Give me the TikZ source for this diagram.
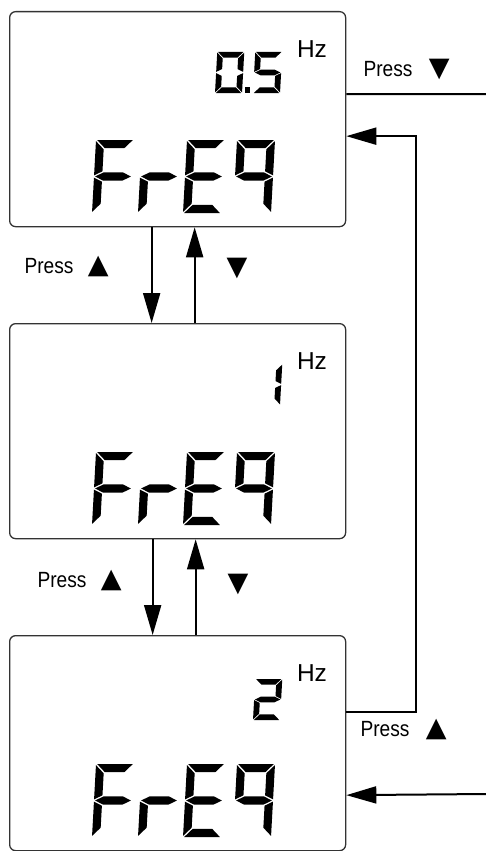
\documentclass[tikz,border=0pt]{standalone}
\usepackage{fontspec}
\setmainfont{Liberation Sans}
\newfontfamily\condfont{Liberation Sans}[FakeStretch=0.87]
\newfontfamily\keyfont{DejaVu Sans}
\usetikzlibrary{arrows.meta,positioning}
\tikzset{
  lcd/.style={draw=black!80, line width=1.3pt, rounded corners=6pt, minimum width=336pt, minimum height=215pt, inner sep=0pt},
  lcdink/.style={fill=black},
  unit/.style={font=\fontsize{24.5}{27}\selectfont, inner sep=0pt},
  presstxt/.style={font=\condfont\fontsize{22}{26}\selectfont, inner sep=0pt},
  keysym/.style={font=\keyfont\fontsize{27}{29}\selectfont, inner sep=0pt},
  arrow/.style={-{Triangle[length=30pt,width=17pt]}, line width=2pt},
  wire/.style={line width=2pt},
}
% seven segment cell: 0..1 wide, 0..2 high
\def\sega{(0.03,2) -- (0.97,2) -- ({0.97-\segx},{2-\segy}) -- ({0.03+\segx},{2-\segy}) -- cycle}
\def\segb{(1,1.97) -- (1,1.03) -- ({1-\segx},{1.03+\segy/2}) -- ({1-\segx},{1.97-\segy}) -- cycle}
\def\segc{(1,0.03) -- (1,0.97) -- ({1-\segx},{0.97-\segy/2}) -- ({1-\segx},{0.03+\segy}) -- cycle}
\def\segd{(0.03,0) -- (0.97,0) -- ({0.97-\segx},\segy) -- ({0.03+\segx},\segy) -- cycle}
\def\sege{(0,0.03) -- (0,0.97) -- (\segx,{0.97-\segy/2}) -- (\segx,{0.03+\segy}) -- cycle}
\def\segf{(0,1.97) -- (0,1.03) -- (\segx,{1.03+\segy/2}) -- (\segx,{1.97-\segy}) -- cycle}
\def\segg{(0.03,1) -- ({0.03+\segx},{1+\segy/2}) -- ({0.97-\segx},{1+\segy/2}) -- (0.97,1) -- ({0.97-\segx},{1-\segy/2}) -- ({0.03+\segx},{1-\segy/2}) -- cycle}
% origin, width, half height, x thickness, y thickness, segments
\newcommand{\lcddigit}[6]{%
  \begin{scope}[shift={#1}, x=#2, y=#3, xslant=0.055]
    \def\segx{#4}\def\segy{#5}
    \foreach \s in {#6} {\fill[lcdink] \csname seg\s\endcsname;}
  \end{scope}}
\newcommand{\bigdigit}[2]{\lcddigit{#1}{38pt}{36.5pt}{0.215}{0.225}{#2}}
\newcommand{\smalldigit}[2]{\lcddigit{#1}{27pt}{20.5pt}{0.215}{0.28}{#2}}

\begin{document}
\begin{tikzpicture}[x=1pt, y=1pt]
  \useasboundingbox (0,0) rectangle (486,-851);

  % displays
  \node[lcd, anchor=north west] (f05) at (9,-11) {};
  \node[lcd, anchor=north west] (f1) at (9,-323) {};
  \node[lcd, anchor=north west] (f2) at (9,-635) {};

  \foreach \b in {f05,f1,f2} {
    \node[unit] (hz\b) at ([shift={(303,-38)}]\b.north west) {Hz};
    \bigdigit{([shift={(83,-202)}]\b.north west)}{a,f,e,g}
    \bigdigit{([shift={(129,-202)}]\b.north west)}{e,g}
    \bigdigit{([shift={(174,-202)}]\b.north west)}{a,f,g,e,d}
    \bigdigit{([shift={(224,-202)}]\b.north west)}{a,b,f,g,c}
  }

  % frequency values
  \smalldigit{([shift={(206,-82)}]f05.north west)}{a,b,c,d,e,f}
  \fill[lcdink] ([shift={(236,-82)}]f05.north west) rectangle ++(5,6);
  \smalldigit{([shift={(244,-82)}]f05.north west)}{a,f,g,c,d}
  \smalldigit{([shift={(244,-82)}]f1.north west)}{b,c}
  \smalldigit{([shift={(244,-85)}]f2.north west)}{a,b,g,e,d}

  % up / down between displays
  \draw[arrow] ([xshift=-26pt]f05.south) -- ([xshift=-26pt]f1.north);
  \draw[arrow] ([xshift=17pt]f1.north) -- ([xshift=17pt]f05.south);
  \draw[arrow] ([xshift=-25pt]f1.south) -- ([xshift=-25pt]f2.north);
  \draw[arrow] ([xshift=18pt]f2.north) -- ([xshift=18pt]f1.south);

  \node[presstxt] (press1) at (49,-266) {Press};
  \node[keysym, right=14pt of press1] (up1) {▲};
  \node[keysym] (down1) at (237,-268) {▼};
  \node[presstxt] (press2) at (62,-580) {Press};
  \node[keysym, right=14pt of press2] (up2) {▲};
  \node[keysym] (down2) at (238,-584) {▼};

  % wrap around on the right
  \coordinate (outtop) at (486,-94);
  \coordinate (inbot) at (486,-794);
  \draw[wire] ([yshift=25pt]f05.east) -- (outtop);
  \draw[arrow] (inbot) -- ([yshift=-52pt]f2.east);
  \draw[arrow] ([yshift=31pt]f2.east) -- ++(70,0) |- ([yshift=-17pt]f05.east);

  \node[presstxt] (press3) at (388,-69) {Press};
  \node[keysym, right=16pt of press3] (down3) {▼};
  \node[presstxt] (press4) at (385,-729) {Press};
  \node[keysym, right=16pt of press4] (up4) {▲};
\end{tikzpicture}
\end{document}
